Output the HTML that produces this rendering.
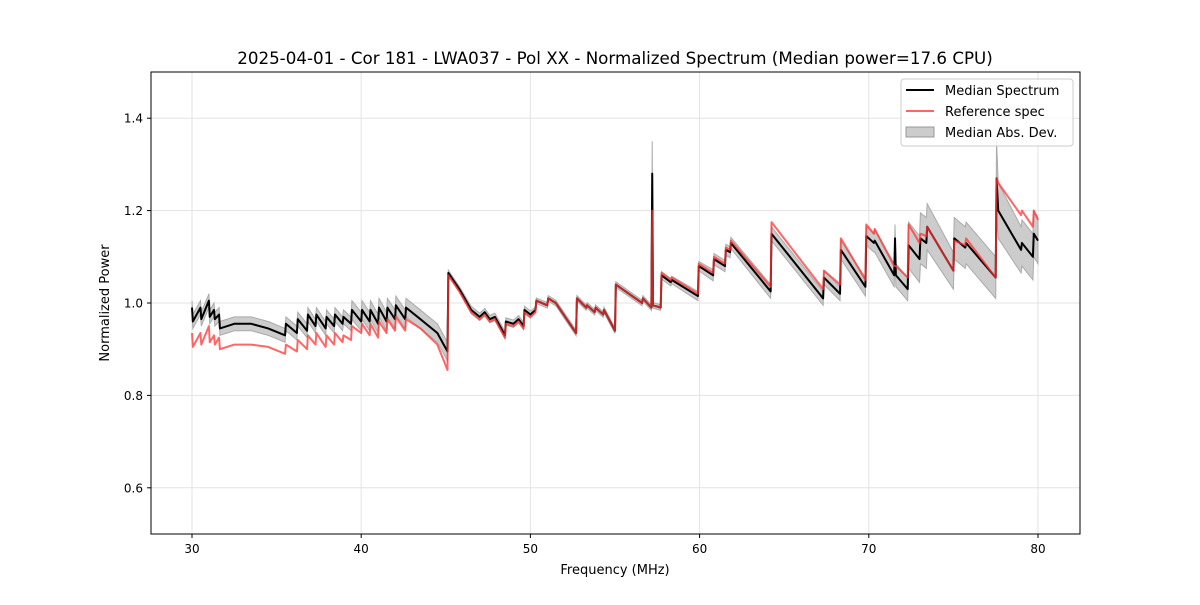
<!DOCTYPE html>
<html><head><meta charset="utf-8"><style>
body{margin:0;background:#fff;}
svg text{font-family:"DejaVu Sans","Liberation Sans",sans-serif;}
</style></head><body>
<svg id="chart" width="1200" height="600" xmlns="http://www.w3.org/2000/svg">
<rect width="1200" height="600" fill="#fff"/>
<g id="grid"></g>
<g id="mad"></g>
<g id="lines"></g>
<rect x="151" y="72" width="929" height="462" fill="none" stroke="#000" stroke-width="1"/>
<g id="ticks"></g>
<text x="615" y="64" font-size="16.7" text-anchor="middle">2025-04-01 - Cor 181 - LWA037 - Pol XX - Normalized Spectrum (Median power=17.6 CPU)</text>
<text x="615" y="574" font-size="13" text-anchor="middle">Frequency (MHz)</text>
<text x="109" y="303" font-size="13" text-anchor="middle" transform="rotate(-90 109 303)">Normalized Power</text>
<g>
<rect x="901" y="79" width="172" height="67" rx="3" fill="#fff" fill-opacity="0.8" stroke="#ccc"/>
<line x1="906" y1="90" x2="934" y2="90" stroke="#000" stroke-width="2"/>
<text x="945" y="95" font-size="13">Median Spectrum</text>
<line x1="906" y1="111" x2="934" y2="111" stroke="#ff5555" stroke-width="2" stroke-opacity="0.9"/>
<text x="945" y="116" font-size="13">Reference spec</text>
<rect x="906" y="127" width="28" height="10" fill="#bbb" fill-opacity="0.75" stroke="#999"/>
<text x="945" y="137" font-size="13">Median Abs. Dev.</text>
</g>
</svg>
<script>
const freqs=[30.0,30.05,30.5,30.55,31.0,31.05,31.3,31.35,31.6,31.65,32.5,33.5,34.5,35.5,35.55,36.2,36.25,36.8,36.85,37.3,37.35,37.9,37.95,38.4,38.45,38.9,38.95,39.4,39.45,40.0,40.05,40.5,40.55,41.0,41.05,41.5,41.55,42.0,42.05,42.6,42.65,43.5,44.5,45.1,45.15,45.8,46.5,47.0,47.3,47.6,47.9,48.5,48.55,49.0,49.3,49.6,49.65,50.0,50.3,50.35,51.0,51.05,51.5,52.7,52.75,53.3,53.35,53.8,53.85,54.3,54.35,
55.0,55.05,56.6,56.65,57.15,57.2,57.25,57.7,57.75,58.3,58.35,59.9,59.95,60.8,60.85,61.5,61.55,61.8,61.85,64.2,64.25,67.3,67.35,68.3,68.35,69.8,69.85,70.3,70.35,71.5,71.55,71.6,72.3,72.35,73.0,73.05,73.4,73.45,75.0,75.05,75.7,75.75,77.5,77.55,77.65,79.0,79.05,79.7,79.75,80.0];
const median=[0.99,0.96,0.99,0.965,1.005,0.97,0.985,0.965,0.975,0.945,0.955,0.955,0.945,0.93,0.955,0.935,0.965,0.94,0.975,0.95,0.975,0.945,0.97,0.95,0.975,0.955,0.97,0.955,0.985,0.96,0.985,0.96,0.985,0.955,0.99,0.96,0.99,0.965,0.995,0.965,0.99,0.965,0.935,0.895,1.065,1.03,0.985,0.97,0.98,0.965,0.97,0.93,0.96,0.955,0.965,0.95,0.985,0.975,0.985,1.005,0.995,1.01,1.0,0.935,1.01,0.99,0.995,0.98,0.99,0.975,0.985,
0.94,1.04,1.0,1.01,0.99,1.28,0.995,0.99,1.06,1.045,1.05,1.015,1.08,1.06,1.095,1.08,1.115,1.11,1.13,1.025,1.15,1.01,1.055,1.02,1.115,1.035,1.145,1.13,1.135,1.06,1.14,1.06,1.03,1.125,1.095,1.14,1.13,1.165,1.07,1.14,1.12,1.13,1.055,1.27,1.2,1.115,1.13,1.1,1.15,1.135];
const ref=[0.935,0.905,0.935,0.91,0.95,0.915,0.93,0.91,0.925,0.9,0.91,0.91,0.905,0.89,0.91,0.895,0.92,0.9,0.93,0.91,0.935,0.905,0.93,0.91,0.935,0.915,0.93,0.92,0.95,0.935,0.955,0.93,0.955,0.925,0.96,0.935,0.965,0.94,0.97,0.94,0.965,0.945,0.91,0.855,1.06,1.025,0.98,0.965,0.975,0.96,0.965,0.925,0.955,0.95,0.96,0.945,0.98,0.97,0.98,1.005,0.995,1.01,1.0,0.935,1.01,0.99,0.995,0.98,0.99,0.975,0.985,
0.94,1.04,1.0,1.01,0.99,1.2,0.995,0.99,1.065,1.05,1.055,1.02,1.085,1.065,1.1,1.085,1.12,1.115,1.135,1.035,1.175,1.03,1.07,1.04,1.14,1.05,1.17,1.15,1.16,1.08,1.08,1.08,1.055,1.17,1.13,1.15,1.145,1.165,1.07,1.135,1.125,1.14,1.055,1.27,1.26,1.19,1.2,1.165,1.2,1.18];
const mad=[0.015,0.015,0.015,0.015,0.015,0.015,0.015,0.015,0.015,0.015,0.015,0.015,0.015,0.015,0.015,0.015,0.015,0.015,0.015,0.015,0.015,0.015,0.015,0.015,0.015,0.015,0.015,0.015,0.02,0.02,0.02,0.02,0.02,0.02,0.02,0.02,0.02,0.02,0.02,0.02,0.02,0.02,0.02,0.02,0.006,0.006,0.008,0.008,0.008,0.008,0.008,0.008,0.008,0.008,0.008,0.008,0.008,0.008,0.006,0.006,0.006,0.006,0.006,0.006,0.006,0.006,0.006,0.006,0.006,0.006,0.006,
0.006,0.006,0.006,0.006,0.006,0.07,0.006,0.006,0.008,0.008,0.008,0.01,0.01,0.012,0.012,0.012,0.012,0.012,0.012,0.015,0.015,0.015,0.015,0.015,0.02,0.02,0.02,0.02,0.025,0.025,0.03,0.025,0.025,0.05,0.05,0.055,0.055,0.05,0.04,0.045,0.045,0.045,0.045,0.08,0.06,0.05,0.05,0.05,0.05,0.05];
const xTicks=[30,40,50,60,70,80];
const yTicks=[0.6,0.8,1.0,1.2,1.4];
const yTickLabels=["0.6","0.8","1.0","1.2","1.4"];
const NS="http://www.w3.org/2000/svg";
const X=f=>192+(f-30)*(1038-192)/50;
const Y=v=>534-(v-0.5)*462/1.0;
function mk(tag,attrs,parent){const e=document.createElementNS(NS,tag);for(const k in attrs)e.setAttribute(k,attrs[k]);parent.appendChild(e);return e;}
const grid=document.getElementById('grid'),ticks=document.getElementById('ticks');
xTicks.forEach(t=>{
 const l=mk('line',{x1:X(t),x2:X(t),y1:72,y2:534,stroke:'#e3e3e3','stroke-width':1},grid);
 
 
 const tk=mk('line',{x1:X(t),x2:X(t),y1:534,y2:538,stroke:'#000'},ticks);
 
 
 const tx=mk('text',{x:X(t),y:553,'font-size':12,'text-anchor':'middle'},ticks);
 tx.textContent=t;
 
 
});
yTicks.forEach((t,i)=>{
 const l=mk('line',{x1:151,x2:1080,y1:Y(t),y2:Y(t),stroke:'#e3e3e3','stroke-width':1},grid);
 
 
 const tk=mk('line',{x1:147,x2:151,y1:Y(t),y2:Y(t),stroke:'#000'},ticks);
 
 
 const tx=mk('text',{x:143,y:Y(t)+4.5,'font-size':12,'text-anchor':'end'},ticks);
 tx.textContent=yTickLabels[i];
 
 
});
let up=[],dn=[];
freqs.forEach((f,i)=>{up.push(X(f)+','+Y(median[i]+mad[i]));dn.unshift(X(f)+','+Y(median[i]-mad[i]));});
const band=mk('polygon',{points:up.concat(dn).join(' '),fill:'#bbb','fill-opacity':0.75,stroke:'#aaa','stroke-width':1},document.getElementById('mad'));


const lines=document.getElementById('lines');
const mp=mk('polyline',{points:freqs.map((f,i)=>X(f)+','+Y(median[i])).join(' '),fill:'none',stroke:'#000','stroke-width':2,'stroke-linejoin':'round'},lines);


const rp=mk('polyline',{points:freqs.map((f,i)=>X(f)+','+Y(ref[i])).join(' '),fill:'none',stroke:'#ff3333','stroke-opacity':0.75,'stroke-width':2,'stroke-linejoin':'round'},lines);


</script>
</body></html>
